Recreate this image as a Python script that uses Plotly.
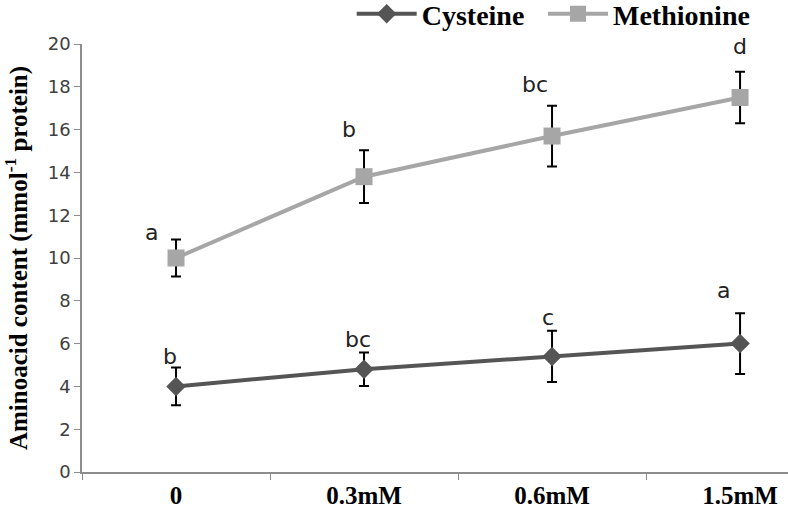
import plotly.graph_objects as go

categories = ["0", "0.3mM", "0.6mM", "1.5mM"]
cysteine = [4.0, 4.8, 5.4, 6.0]
cysteine_err = [0.88, 0.78, 1.2, 1.42]
methionine = [10.0, 13.8, 15.7, 17.5]
methionine_err = [0.87, 1.23, 1.42, 1.2]
cys_letters = ["b", "bc", "c", "a"]
met_letters = ["a", "b", "bc", "d"]
y_ticks = [0, 2, 4, 6, 8, 10, 12, 14, 16, 18, 20]

# label placement (data-y of label centre, pixel x-shift)
cys_label_y = [5.4, 6.2, 7.2, 8.5]
cys_label_dx = [-6, -6, -4, -17]
met_label_y = [11.2, 16.0, 18.1, 19.9]
met_label_dx = [-25, -15, -17, 0]

fig = go.Figure()
fig.add_trace(go.Scatter(
    x=categories, y=cysteine, name="Cysteine", mode="lines+markers",
    line=dict(color="#555555", width=4),
    marker=dict(symbol="diamond", size=15, color="#555555"),
    error_y=dict(type="data", array=cysteine_err, color="black", thickness=2, width=5),
    legend="legend",
))
fig.add_trace(go.Scatter(
    x=categories, y=methionine, name="Methionine", mode="lines+markers",
    line=dict(color="#A6A6A6", width=4),
    marker=dict(symbol="square", size=17, color="#A6A6A6"),
    error_y=dict(type="data", array=methionine_err, color="black", thickness=2, width=5),
    legend="legend2",
))

annos = []
for cat, yy, dx, t in zip(categories, cys_label_y, cys_label_dx, cys_letters):
    annos.append(dict(x=cat, y=yy, xshift=dx, text=t, showarrow=False,
                      font=dict(family="DejaVu Sans", size=22, color="#222222"),
                      xanchor="center", yanchor="middle"))
for cat, yy, dx, t in zip(categories, met_label_y, met_label_dx, met_letters):
    annos.append(dict(x=cat, y=yy, xshift=dx, text=t, showarrow=False,
                      font=dict(family="DejaVu Sans", size=22, color="#222222"),
                      xanchor="center", yanchor="middle"))

legend_font = dict(family="Liberation Serif", size=28, color="black", weight="bold")

fig.update_layout(
    width=788, height=509,
    margin=dict(l=82, r=0, t=44, b=37, autoexpand=False),
    paper_bgcolor="white", plot_bgcolor="white",
    showlegend=True,
    legend=dict(orientation="h", x=0.382, y=1.07, xanchor="left", yanchor="middle",
                font=legend_font, itemwidth=60, bgcolor="rgba(0,0,0,0)"),
    legend2=dict(orientation="h", x=0.653, y=1.07, xanchor="left", yanchor="middle",
                 font=legend_font, itemwidth=60, bgcolor="rgba(0,0,0,0)"),
    annotations=annos,
    xaxis=dict(
        type="category", range=[-0.5, 3.255], automargin=False,
        showline=True, linecolor="#8c8c8c", linewidth=1.5,
        ticks="outside", tickson="boundaries", ticklen=6, tickcolor="#8c8c8c",
        showgrid=False, zeroline=False,
        tickfont=dict(family="Liberation Serif", size=25, color="black", weight="bold"),
    ),
    yaxis=dict(
        range=[0, 20], tickvals=y_ticks, automargin=False,
        showline=True, linecolor="#8c8c8c", linewidth=1.5,
        ticks="outside", ticklen=6, tickcolor="#8c8c8c",
        showgrid=False, zeroline=False,
        tickfont=dict(family="DejaVu Sans", size=18, color="#404040"),
        title=dict(text="Aminoacid content (mmol<sup>-1</sup> protein)",
                   font=dict(family="Liberation Serif", size=25, color="black", weight="bold"),
                   standoff=16),
    ),
)

fig.write_html("out.html", config={"displayModeBar": False},
               post_script="document.body.style.margin='0';")
